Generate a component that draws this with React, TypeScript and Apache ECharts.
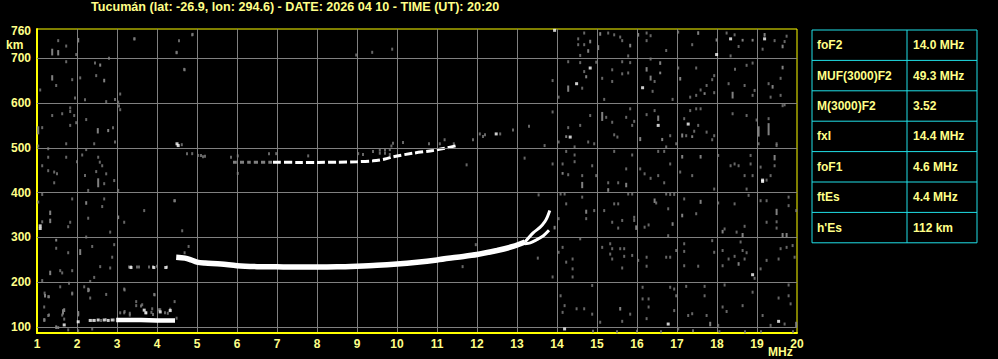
import React, { useEffect, useRef } from "react";
import * as echarts from "echarts";

const titleText = "Tucumán (lat: -26.9, lon: 294.6) - DATE: 2026 04 10 - TIME (UT): 20:20";
const yUnit = "km";
const xUnit = "MHz";
const yTickValues = [100, 200, 300, 400, 500, 600, 700, 760];
const yGridValues = [100, 200, 300, 400, 500, 600, 700];
const paramNames = ["foF2", "MUF(3000)F2", "M(3000)F2", "fxI", "foF1", "ftEs", "h'Es"];
const paramValues = ["14.0 MHz", "49.3 MHz", "3.52", "14.4 MHz", "4.6 MHz", "4.4 MHz", "112 km"];

// F-layer ordinary trace (MHz, km)
const fTrace = [
  [4.48, 256], [4.7, 254], [4.85, 250], [5.0, 245], [5.2, 243], [5.6, 241], [6.0, 237], [6.5, 235],
  [7.0, 234.5], [7.5, 234], [8.0, 234], [8.5, 234.5], [9.0, 236], [9.5, 238], [10.0, 241], [10.5, 245],
  [11.0, 250], [11.5, 256], [12.0, 262], [12.5, 271], [12.9, 280], [13.2, 290],
];
const fUpperBranch = [[13.2, 290], [13.41, 311], [13.58, 323], [13.7, 336], [13.76, 346], [13.82, 360]];
const fLowerBranch = [[13.2, 286], [13.33, 288], [13.49, 295], [13.66, 304], [13.8, 316]];
const esTrace = [[2.98, 116], [3.3, 116], [3.6, 116], [4.0, 115], [4.45, 115]];
const secondHopWeak = [[5.9, 468], [6.3, 468], [6.9, 468]];
const secondHop = [
  [6.9, 468], [7.5, 467.5], [8.0, 467.5], [8.5, 468], [9.0, 469], [9.4, 471], [9.7, 475], [9.9, 480],
  [10.4, 488], [10.9, 494], [11.2, 499], [11.5, 505],
];

const strongEchoes = [
  [2.33, 115], [2.43, 115], [2.53, 116], [2.68, 116], [2.78, 115], [2.88, 116],
  [3.68, 138], [3.72, 132], [4.08, 134], [4.33, 137], [1.08, 320], [1.08, 326], [1.68, 105], [2.03, 112],
  [4.5, 509], [4.53, 505], [3.35, 233], [3.92, 233], [4.22, 233], [12.48, 531],
  [13.94, 762], [17.99, 708], [18.34, 743], [19.19, 743], [14.83, 678], [14.49, 643], [16.14, 634],
  [14.33, 524], [16.53, 550], [17.28, 553], [19.14, 428], [19.14, 425], [18.89, 217], [14.19, 96],
  [16.78, 107], [19.54, 113],
];

const weakEchoes = [
  [1.53, 739], [1.73, 727], [1.98, 708], [1.73, 692], [2.45, 689], [2.8, 700], [3.43, 743], [4.55, 739],
  [4.49, 712], [4.88, 752], [4.68, 675], [1.48, 639], [1.08, 629], [1.88, 652], [2.08, 656], [2.48, 661],
  [1.95, 611], [2.2, 607], [2.73, 603], [2.95, 608], [3.03, 602], [3.08, 620], [3.05, 593], [3.08, 585],
  [1.83, 589], [1.83, 581], [1.38, 572], [1.63, 576], [1.93, 572], [2.23, 563], [1.98, 556], [1.83, 550],
  [1.13, 545], [1.73, 509], [2.9, 545], [2.95, 513], [2.43, 509], [1.03, 504], [1.28, 498], [2.13, 484],
  [2.23, 496], [2.53, 479], [2.57, 468], [2.63, 460], [1.28, 479], [1.73, 479], [2.0, 469], [1.13, 460],
  [1.28, 449], [1.43, 446], [1.5, 442], [2.2, 438], [2.48, 447], [2.73, 442], [2.68, 420], [2.93, 427],
  [1.43, 422], [2.28, 405], [3.03, 405], [1.13, 396], [1.03, 379], [1.88, 386], [2.68, 386], [2.63, 369],
  [3.68, 360], [4.43, 382], [1.13, 335], [1.83, 334], [1.78, 324], [2.28, 343], [3.18, 334], [2.83, 312],
  [4.63, 315], [2.23, 301], [1.48, 276], [1.78, 266], [2.38, 280], [2.93, 284], [2.88, 256], [2.83, 232],
  [2.58, 235], [1.58, 226], [1.63, 221], [1.88, 226], [1.13, 204], [1.58, 190], [1.8, 198], [2.18, 190],
  [2.43, 211], [2.33, 202], [1.28, 168], [1.88, 174], [2.73, 173], [3.18, 185], [3.93, 173], [2.33, 165],
  [1.18, 145], [1.63, 127], [1.28, 126], [1.68, 118], [1.78, 94], [2.03, 92], [2.38, 96], [3.48, 148],
  [1.19, 176], [1.3, 168], [1.19, 116], [1.3, 127], [2.03, 130], [2.3, 183], [3.19, 183], [3.19, 135],
  [3.48, 157], [3.63, 150], [3.94, 172], [4.05, 139], [4.44, 157], [4.33, 140], [3.86, 133], [3.32, 131],
  [3.32, 127], [4.49, 120], [1.88, 176], [3.08, 132], [3.18, 132], [3.6, 147], [3.73, 132], [3.88, 141],
  [4.08, 139], [4.2, 132], [4.27, 131], [3.9, 128], [2.38, 115], [2.6, 115], [2.72, 117], [2.93, 116],
  [3.3, 234], [3.35, 235], [3.5, 234], [3.55, 234], [3.8, 234], [3.9, 235], [4.0, 236], [4.25, 234],
  [5.03, 483], [5.1, 483], [5.2, 481],
  [14.68, 756], [14.53, 743], [14.68, 730], [14.53, 730], [14.58, 706], [15.28, 756], [15.43, 752],
  [15.58, 747], [15.63, 739], [15.78, 705], [16.24, 756], [16.34, 750], [16.24, 739], [16.73, 717],
  [17.03, 758], [17.38, 730], [18.24, 756], [18.44, 752], [18.54, 726], [19.44, 739], [19.74, 749],
  [19.69, 737], [19.14, 720], [18.34, 705],
  [13.89, 650], [14.04, 613], [14.28, 692], [14.63, 633], [14.68, 670], [14.58, 690], [14.98, 691],
  [15.13, 655], [15.38, 674], [15.63, 692], [15.83, 690], [15.63, 665], [15.78, 667], [15.38, 648],
  [15.18, 608], [16.34, 698], [16.44, 648], [16.39, 626], [16.89, 608], [17.03, 678], [17.48, 678],
  [17.33, 613], [17.48, 617], [17.59, 629], [17.74, 639], [17.93, 623], [17.88, 652], [17.93, 661],
  [18.45, 675], [18.29, 643], [18.69, 639], [18.74, 684], [18.89, 689], [18.94, 628], [19.29, 643],
  [19.59, 655], [19.34, 613], [19.59, 617], [18.89, 617],
  [14.28, 545], [13.89, 580], [14.04, 513], [14.44, 502], [14.58, 550], [14.83, 572], [14.78, 513],
  [14.93, 509], [15.23, 568], [15.38, 557], [15.43, 529], [15.51, 524], [15.73, 568], [15.83, 587],
  [15.88, 550], [15.93, 559], [16.24, 574], [16.44, 583], [16.73, 502], [16.83, 527], [16.98, 509],
  [17.18, 565], [17.23, 527], [17.33, 583], [17.48, 587], [17.53, 550], [17.59, 587], [17.43, 537],
  [17.74, 535], [17.88, 518], [17.93, 527], [18.39, 576], [18.74, 572], [18.99, 562], [19.04, 509],
  [19.49, 509], [19.64, 594], [19.69, 596], [19.29, 565],
  [14.23, 492], [14.44, 484], [14.44, 469], [14.14, 464], [14.28, 440], [14.63, 438], [14.88, 460],
  [14.98, 438], [15.28, 422], [15.53, 422], [15.73, 453], [15.43, 492], [15.88, 484], [16.08, 453],
  [16.19, 442], [16.34, 432], [16.53, 438], [16.53, 492], [16.68, 492], [16.68, 422], [16.83, 464],
  [17.08, 446], [17.38, 438], [17.93, 408], [18.03, 483], [18.34, 460], [18.44, 464], [18.54, 460],
  [18.74, 408], [18.69, 438], [18.84, 483], [18.89, 438], [18.84, 464], [19.09, 457], [19.24, 428],
  [19.34, 438], [19.44, 460], [19.49, 505], [13.89, 464],
  [14.04, 342], [14.09, 397], [14.19, 397], [14.23, 375], [14.63, 390], [14.73, 342], [14.93, 360],
  [15.18, 360], [15.38, 334], [15.43, 375], [15.53, 375], [15.53, 321], [15.63, 338], [15.78, 397],
  [15.88, 397], [15.93, 345], [15.93, 338], [16.19, 323], [16.29, 328], [16.48, 377], [16.73, 397],
  [16.83, 396], [16.93, 396], [16.78, 364], [16.78, 304], [17.18, 386], [17.48, 353], [18.03, 377],
  [18.19, 319], [18.44, 375], [18.49, 312], [18.69, 325], [18.79, 394], [19.09, 382], [19.24, 382],
  [19.49, 335], [19.49, 321], [19.79, 390], [19.79, 371], [19.98, 360], [19.24, 334],
  [14.14, 278], [14.04, 267], [14.39, 252], [14.23, 245], [14.39, 230], [14.39, 212], [14.58, 297],
  [15.33, 286], [15.38, 275], [15.33, 263], [15.38, 252], [15.58, 275], [15.68, 275], [15.68, 258],
  [15.88, 260], [15.13, 278], [15.63, 232], [16.03, 249], [16.24, 256], [16.24, 236], [16.73, 256],
  [16.83, 256], [16.98, 271], [17.18, 286], [17.18, 269], [17.53, 236], [17.88, 293], [17.93, 267],
  [18.14, 271], [18.14, 237], [18.29, 252], [18.44, 258], [18.59, 290], [18.64, 271], [18.74, 266],
  [18.69, 252], [18.94, 209], [19.09, 230], [19.24, 249], [19.54, 252], [19.59, 275], [19.74, 278],
  [19.89, 282], [19.94, 256], [17.18, 237], [13.89, 212],
  [14.09, 170], [14.19, 148], [14.14, 133], [14.49, 141], [14.68, 141], [14.88, 193], [14.88, 129],
  [15.08, 111], [15.83, 129], [15.63, 113], [16.14, 189], [16.14, 163], [16.29, 163], [16.29, 145],
  [16.24, 119], [16.83, 189], [16.93, 185], [16.93, 137], [16.98, 170], [17.03, 96], [17.23, 191],
  [17.28, 126], [17.38, 130], [17.69, 191], [17.69, 170], [17.74, 126], [18.03, 104], [18.19, 194],
  [18.24, 135], [18.14, 145], [18.64, 148], [18.89, 178], [19.14, 126], [19.34, 104], [19.54, 165],
  [19.79, 194], [19.79, 170], [19.84, 152], [19.69, 107],
  [16.6, 90], [17.4, 92], [18.06, 90], [18.7, 90], [19.1, 90], [19.9, 90], [14.9, 91], [15.5, 90], [16.0, 91],
  [3.44, 743], [4.89, 753], [4.49, 713], [4.69, 674], [8.98, 707], [9.38, 713], [9.88, 720],
  [4.45, 382], [4.79, 280], [4.69, 266], [11.74, 462], [13.54, 395], [11.97, 284], [11.64, 235],
  [13.52, 254], [13.19, 477], [12.07, 531], [12.15, 525], [13.69, 505], [12.58, 531], [11.9, 518],
  [11.19, 518], [11.42, 509], [11.07, 509], [10.8, 509], [10.15, 512], [9.9, 510], [9.86, 504],
  [4.62, 507], [4.75, 487], [4.88, 487], [5.15, 480], [5.85, 479], [6.02, 482], [6.02, 443],
  [6.8, 487], [6.98, 487], [7.78, 482], [9.03, 487], [9.15, 485], [9.4, 492], [9.57, 495], [9.7, 495],
  [9.82, 496], [9.57, 488], [9.7, 488], [9.82, 485], [12.2, 529], [12.9, 540], [13.3, 548],
];

// vertical streaks: [MHz, km low, km high]
const weakStreaks = [
  [1.38, 706, 721], [1.53, 706, 718], [2.03, 735, 745], [2.58, 681, 688], [1.38, 650, 662], [2.68, 646, 654],
  [1.03, 530, 548], [2.52, 532, 544], [2.78, 535, 542], [2.53, 412, 432], [2.23, 373, 381], [1.33, 350, 360],
  [1.33, 332, 342], [3.03, 341, 349], [1.48, 291, 297], [2.08, 261, 274], [1.33, 216, 226], [2.28, 178, 188],
  [1.2, 166, 174], [1.68, 134, 142], [2.03, 124, 136], [1.18, 112, 120], [1.48, 96, 104], [1.65, 128, 140],
  [1.53, 96, 102],
  [14.83, 733, 741], [14.78, 712, 720], [15.08, 750, 758], [15.03, 718, 729], [15.83, 724, 732],
  [16.03, 748, 756], [17.53, 752, 760], [17.99, 737, 744], [18.64, 737, 743], [18.89, 737, 743],
  [19.19, 748, 756], [19.64, 722, 730], [14.28, 625, 639], [14.73, 655, 662], [16.24, 670, 680],
  [16.58, 685, 693], [16.34, 650, 661], [16.58, 664, 670], [17.08, 650, 658], [17.69, 618, 624],
  [18.39, 610, 625], [19.39, 632, 640], [19.64, 675, 683], [14.23, 522, 528], [15.13, 560, 580],
  [16.08, 515, 524], [16.53, 560, 572], [16.63, 515, 522], [17.13, 523, 532], [17.38, 522, 528],
  [19.04, 525, 548], [19.29, 528, 555], [14.14, 440, 446], [14.63, 410, 424], [15.28, 402, 410],
  [15.73, 412, 422], [17.13, 476, 484], [17.59, 476, 484], [19.44, 472, 484], [13.94, 318, 326],
  [14.73, 353, 362], [15.98, 317, 327], [16.44, 377, 387], [16.89, 326, 334], [17.13, 345, 353],
  [17.59, 375, 384], [18.14, 309, 317], [18.64, 300, 310], [19.49, 350, 364], [19.64, 300, 310],
  [19.74, 300, 310], [17.83, 102, 112], [19.98, 100, 112], [15.58, 137, 145], [18.54, 237, 245],
];

const GRAY = "#808080";
const YELLOW_LINE = "#ffff00";
const YELLOW_TEXT = "#ffff88";
const CYAN = "#20e0e8";
const FONT = "'Liberation Sans', Arial, sans-serif";

export default function App() {
  const ref = useRef<HTMLDivElement>(null);
  useEffect(() => {
    document.body.style.margin = "0";
    document.body.style.background = "#000";
    const chart = echarts.init(ref.current!, undefined, { renderer: "svg" });

    const tableX0 = 812, tableX1 = 977, tableXm = 907, tableY0 = 30, rowH = 30.4;
    const tableGraphics: any[] = [];
    tableGraphics.push({
      type: "rect", shape: { x: tableX0, y: tableY0, width: tableX1 - tableX0, height: rowH * paramNames.length },
      style: { fill: "none", stroke: CYAN, lineWidth: 1 }, z: 10,
    });
    tableGraphics.push({
      type: "line", shape: { x1: tableXm, y1: tableY0, x2: tableXm, y2: tableY0 + rowH * paramNames.length },
      style: { stroke: CYAN, lineWidth: 1 }, z: 10,
    });
    paramNames.forEach((name, i) => {
      if (i > 0) {
        tableGraphics.push({
          type: "line", shape: { x1: tableX0, y1: tableY0 + rowH * i, x2: tableX1, y2: tableY0 + rowH * i },
          style: { stroke: CYAN, lineWidth: 1 }, z: 10,
        });
      }
      const cy = tableY0 + rowH * i + rowH / 2;
      tableGraphics.push({
        type: "text", x: 817, y: cy,
        style: { text: name, fill: YELLOW_TEXT, font: `bold 12px ${FONT}`, verticalAlign: "middle" }, z: 10,
      });
      tableGraphics.push({
        type: "text", x: 913, y: cy,
        style: { text: paramValues[i], fill: YELLOW_TEXT, font: `bold 12px ${FONT}`, verticalAlign: "middle" }, z: 10,
      });
    });

    chart.setOption({
      animation: false,
      backgroundColor: "#000",
      grid: {
        left: 37, top: 29, width: 760, height: 304,
        show: true, borderColor: YELLOW_LINE, borderWidth: 1, backgroundColor: "transparent",
      },
      xAxis: {
        type: "value", min: 1, max: 20, interval: 1,
        axisLine: { show: true, lineStyle: { color: YELLOW_LINE, width: 2 } },
        axisTick: { show: false },
        axisLabel: { color: YELLOW_TEXT, fontWeight: "bold", fontSize: 12, fontFamily: FONT, margin: 5 },
        splitLine: { show: true, showMinLine: false, showMaxLine: false, lineStyle: { color: GRAY, width: 1 } },
      },
      yAxis: {
        type: "value", min: 87, max: 765,
        axisLine: { show: true, lineStyle: { color: YELLOW_LINE, width: 2 } },
        axisTick: { show: false },
        axisLabel: {
          color: YELLOW_TEXT, fontWeight: "bold", fontSize: 12, fontFamily: FONT, margin: 6,
          customValues: yTickValues,
        },
        splitLine: { show: false },
      },
      graphic: [
        {
          type: "text", x: 91, y: 7,
          style: { text: titleText, fill: YELLOW_TEXT, font: `bold 12.6px ${FONT}`, verticalAlign: "middle" },
        },
        {
          type: "text", x: 6, y: 45,
          style: { text: yUnit, fill: YELLOW_TEXT, font: `bold 12px ${FONT}`, verticalAlign: "middle" },
        },
        {
          type: "text", x: 768, y: 352,
          style: { text: xUnit, fill: YELLOW_TEXT, font: `bold 12px ${FONT}`, verticalAlign: "middle" },
        },
        ...tableGraphics,
      ],
      series: [
        {
          type: "scatter", data: weakEchoes, symbol: "rect", symbolSize: [2, 3],
          itemStyle: { color: GRAY }, z: 2, silent: true,
          markLine: {
            silent: true, symbol: ["none", "none"], label: { show: false },
            lineStyle: { color: GRAY, width: 1, type: "solid" },
            data: yGridValues.map((v) => ({ yAxis: v })),
          },
        },
        {
          type: "custom", data: weakStreaks, encode: { x: 0, y: [1, 2] }, z: 2, silent: true,
          renderItem: (params: any, api: any) => {
            const top = api.coord([api.value(0), api.value(2)]);
            const bot = api.coord([api.value(0), api.value(1)]);
            return {
              type: "rect",
              shape: { x: top[0] - 1, y: top[1], width: 2, height: Math.max(2, bot[1] - top[1]) },
              style: { fill: GRAY },
            };
          },
        },
        {
          type: "line", data: secondHopWeak, showSymbol: false, smooth: 0.3, z: 3,
          lineStyle: { color: GRAY, width: 3, type: [4, 3] },
        },
        {
          type: "line", data: secondHop, showSymbol: false, smooth: 0.3, z: 4,
          lineStyle: { color: "#ffffff", width: 3, type: [8, 3] },
        },
        {
          type: "line", data: fTrace, showSymbol: false, smooth: 0.3, z: 5,
          lineStyle: { color: "#ffffff", width: 5.5 },
        },
        {
          type: "line", data: fUpperBranch, showSymbol: false, smooth: 0.3, z: 5,
          lineStyle: { color: "#ffffff", width: 3 },
        },
        {
          type: "line", data: fLowerBranch, showSymbol: false, smooth: 0.3, z: 5,
          lineStyle: { color: "#ffffff", width: 3 },
        },
        {
          type: "line", data: esTrace, showSymbol: false, z: 5,
          lineStyle: { color: "#ffffff", width: 4.5 },
        },
        {
          type: "scatter", data: strongEchoes, symbol: "rect", symbolSize: [3, 3],
          itemStyle: { color: "#ffffff" }, z: 6, silent: true,
        },
      ],
    });
    return () => chart.dispose();
  }, []);
  return <div ref={ref} style={{ position: "absolute", left: 0, top: 0, width: 998, height: 359 }} />;
}
